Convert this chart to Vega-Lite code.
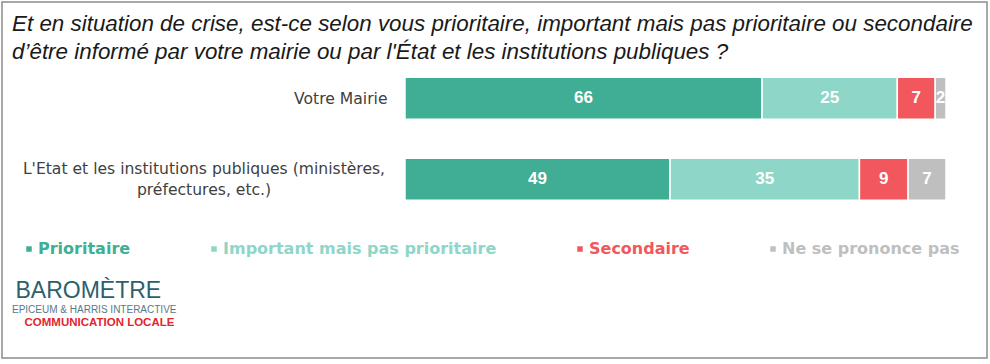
{
  "$schema": "https://vega.github.io/schema/vega-lite/v6.json",
  "width": 985,
  "height": 356,
  "autosize": "none",
  "padding": {"left": 2, "top": 2, "right": 3, "bottom": 6},
  "background": "white",
  "config": {"view": {"stroke": "#8c8c8c", "strokeWidth": 1.5}},
  "title": {
    "text": ["Et en situation de crise, est-ce selon vous prioritaire, important mais pas prioritaire ou secondaire", "d’être informé par votre mairie ou par l'État et les institutions publiques ?"],
    "subtitle": "EPICEUM & HARRIS INTERACTIVE",
    "orient": "top",
    "anchor": "start",
    "frame": "group",
    "offset": -313,
    "dx": 10,
    "font": "Liberation Sans",
    "fontSize": 22.4,
    "fontStyle": "italic",
    "fontWeight": "normal",
    "color": "#1a1a1a",
    "lineHeight": 28,
    "subtitleFont": "Liberation Sans",
    "subtitleFontSize": 10,
    "subtitleColor": "#56798a",
    "subtitlePadding": 242
  },
  "data": {"values": [
    {"item": "Votre Mairie", "cat": "Prioritaire", "v": 66, "ord": 1},
    {"item": "Votre Mairie", "cat": "Important mais pas prioritaire", "v": 25, "ord": 2},
    {"item": "Votre Mairie", "cat": "Secondaire", "v": 7, "ord": 3},
    {"item": "Votre Mairie", "cat": "Ne se prononce pas", "v": 2, "ord": 4},
    {"item": "L'Etat et les institutions publiques (ministères,|préfectures, etc.)", "cat": "Prioritaire", "v": 49, "ord": 1},
    {"item": "L'Etat et les institutions publiques (ministères,|préfectures, etc.)", "cat": "Important mais pas prioritaire", "v": 35, "ord": 2},
    {"item": "L'Etat et les institutions publiques (ministères,|préfectures, etc.)", "cat": "Secondaire", "v": 9, "ord": 3},
    {"item": "L'Etat et les institutions publiques (ministères,|préfectures, etc.)", "cat": "Ne se prononce pas", "v": 7, "ord": 4}
  ]},
  "encoding": {
    "y": {
      "field": "item",
      "type": "nominal",
      "sort": null,
      "scale": {"range": [75.3, 198.3], "paddingInner": 0.4815, "paddingOuter": 0},
      "axis": {
        "title": "COMMUNICATION LOCALE",
        "titleAngle": 0,
        "titleX": 22,
        "titleY": 323,
        "titleAlign": "left",
        "titleBaseline": "alphabetic",
        "titleFont": "Liberation Sans",
        "titleFontSize": 11.5,
        "titleFontWeight": "bold",
        "titleColor": "#e3262e",
        "domain": false,
        "ticks": false,
        "tickSize": 0,
        "labelExpr": "split(datum.label, '|')",
        "labelFont": "DejaVu Sans",
        "labelFontSize": 15.6,
        "labelColor": "#404040",
        "labelLineHeight": 21,
        "labelBaseline": "middle",
        "labelLimit": 600,
        "labelAlign": {"condition": {"test": "indexof(datum.value, '|') < 0", "value": "right"}, "value": "center"},
        "labelPadding": {"condition": {"test": "indexof(datum.value, '|') < 0", "value": -385}, "value": -201.5},
        "labelOffset": {"condition": {"test": "indexof(datum.value, '|') < 0", "value": 1}, "value": -10}
      }
    }
  },
  "layer": [
    {
      "mark": {"type": "bar", "stroke": "white", "strokeWidth": 1.5},
      "encoding": {
        "x": {
          "field": "v",
          "type": "quantitative",
          "stack": "zero",
          "scale": {"domain": [-74.49, 107.58], "nice": false, "zero": false},
          "axis": {
            "labels": false,
            "ticks": false,
            "domain": false,
            "grid": false,
            "title": "BAROMÈTRE",
            "titleX": 13,
            "titleY": -61,
            "titleAlign": "left",
            "titleBaseline": "alphabetic",
            "titleFont": "Liberation Sans",
            "titleFontSize": 23,
            "titleFontWeight": "normal",
            "titleColor": "#2e5f6e"
          }
        },
        "color": {
          "field": "cat",
          "type": "nominal",
          "sort": ["Prioritaire", "Important mais pas prioritaire", "Secondaire", "Ne se prononce pas"],
          "scale": {
            "domain": ["Prioritaire", "Important mais pas prioritaire", "Secondaire", "Ne se prononce pas"],
            "range": ["#3fae94", "#8ed6c7", "#f2575d", "#bfbfbf"]
          },
          "legend": {
            "orient": "none",
            "legendX": 19,
            "legendY": 239,
            "direction": "horizontal",
            "title": null,
            "columnPadding": 75,
            "symbolType": "square",
            "symbolSize": 30,
            "symbolStrokeWidth": 0,
            "labelFont": "DejaVu Sans",
            "labelFontSize": 16,
            "labelFontWeight": "bold",
            "labelOffset": 1,
            "labelLimit": 400,
            "labelColor": {"expr": "scale('color', datum.value)"}
          }
        },
        "order": {"field": "ord", "type": "quantitative"}
      }
    },
    {
      "mark": {"type": "text", "color": "white", "font": "Liberation Sans", "fontSize": 17, "fontWeight": "bold", "baseline": "middle", "align": "center"},
      "encoding": {
        "x": {"field": "v", "type": "quantitative", "stack": "zero", "bandPosition": 0.5},
        "text": {"field": "v", "type": "quantitative"},
        "order": {"field": "ord", "type": "quantitative"}
      }
    }
  ]
}
